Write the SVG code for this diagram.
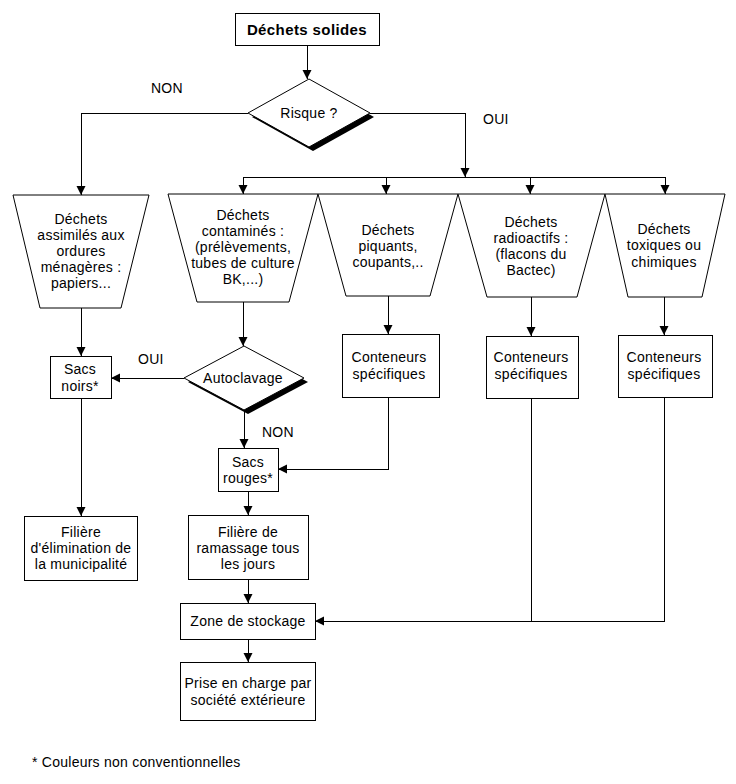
<svg xmlns="http://www.w3.org/2000/svg" width="736" height="784" viewBox="0 0 736 784">
<style>
  .box{fill:#fff;stroke:#000;stroke-width:1;shape-rendering:crispEdges}
  .shape{fill:#fff;stroke:#000;stroke-width:1}
  .shadow{fill:#000;stroke:none}
  .t{font-family:"Liberation Sans",Arial,sans-serif;font-size:14px;letter-spacing:0.25px;fill:#000;text-anchor:middle}
  .title{font-family:"Liberation Sans",Arial,sans-serif;font-size:15px;font-weight:bold;letter-spacing:0.4px;fill:#000;text-anchor:middle}
  .lbl{font-family:"Liberation Sans",Arial,sans-serif;font-size:14px;letter-spacing:0.25px;fill:#000}
  .c{fill:none;stroke:#000;stroke-width:1;shape-rendering:crispEdges}
  .a{marker-end:url(#arr)}
</style>
<defs>
  <marker id="arr" markerUnits="userSpaceOnUse" markerWidth="10" markerHeight="10" refX="9" refY="4.5" orient="auto">
    <path d="M0,0 L9,4.5 L0,9 z" fill="#000"/>
  </marker>
</defs>
<rect width="736" height="784" fill="#fff"/>

<g id="connectors">
  <line class="c a" x1="307" y1="45" x2="307" y2="79"/>
  <polyline class="c a" points="248,113 81,113 81,195"/>
  <polyline class="c a" points="370,113 465,113 465,177"/>
  <line class="c" x1="243" y1="177" x2="665" y2="177"/>
  <line class="c a" x1="243" y1="177" x2="243" y2="194"/>
  <line class="c a" x1="386" y1="177" x2="386" y2="194"/>
  <line class="c a" x1="530" y1="177" x2="530" y2="194"/>
  <line class="c a" x1="665" y1="177" x2="665" y2="194"/>
  <line class="c a" x1="81" y1="308" x2="81" y2="356"/>
  <line class="c a" x1="243" y1="302" x2="243" y2="346"/>
  <line class="c a" x1="184" y1="378" x2="111" y2="378"/>
  <line class="c a" x1="244" y1="410" x2="244" y2="448"/>
  <line class="c a" x1="388" y1="296" x2="388" y2="334"/>
  <line class="c a" x1="531" y1="297" x2="531" y2="336"/>
  <line class="c a" x1="664" y1="297" x2="664" y2="335"/>
  <polyline class="c a" points="388,397 388,469 278,469"/>
  <line class="c a" x1="81" y1="398" x2="81" y2="516"/>
  <line class="c a" x1="248" y1="491" x2="248" y2="515"/>
  <line class="c a" x1="248" y1="579" x2="248" y2="603"/>
  <polyline class="c a" points="664,397 664,621 315,621"/>
  <line class="c" x1="531" y1="398" x2="531" y2="621"/>
  <line class="c a" x1="248" y1="639" x2="248" y2="662"/>
  <text class="lbl" x="151" y="93">NON</text>
  <text class="lbl" x="483" y="124">OUI</text>
  <text class="lbl" x="138" y="364">OUI</text>
  <text class="lbl" x="262" y="437">NON</text>
</g>

<g id="dechets-solides">
  <rect class="box" x="235" y="13" width="144" height="32"/>
  <text class="title" x="307" y="35">Déchets solides</text>
</g>

<g id="risque">
  <polygon class="shadow" points="252,117 313,83 374,117 313,151"/>
  <polygon class="shape" points="248,113 309,79 370,113 309,147"/>
  <text class="t" x="309" y="118">Risque ?</text>
</g>

<g id="assimiles">
  <polygon class="shape" points="13,195 149,195 121,308 40,308"/>
  <text class="t" x="81" y="224">Déchets</text>
  <text class="t" x="81" y="240">assimilés aux</text>
  <text class="t" x="81" y="256">ordures</text>
  <text class="t" x="81" y="272">ménagères :</text>
  <text class="t" x="81" y="288">papiers...</text>
</g>

<g id="contamines">
  <polygon class="shape" points="168,194 318,194 289,302 197,302"/>
  <text class="t" x="243" y="220">Déchets</text>
  <text class="t" x="243" y="236">contaminés :</text>
  <text class="t" x="243" y="252">(prélèvements,</text>
  <text class="t" x="243" y="268">tubes de culture</text>
  <text class="t" x="243" y="284">BK,...)</text>
</g>

<g id="piquants">
  <polygon class="shape" points="318,194 458,194 430,296 346,296"/>
  <text class="t" x="388" y="235">Déchets</text>
  <text class="t" x="388" y="251">piquants,</text>
  <text class="t" x="388" y="267">coupants,..</text>
</g>

<g id="radioactifs">
  <polygon class="shape" points="458,194 605,194 577,297 487,297"/>
  <text class="t" x="531" y="227">Déchets</text>
  <text class="t" x="531" y="243">radioactifs :</text>
  <text class="t" x="531" y="259">(flacons du</text>
  <text class="t" x="531" y="275">Bactec)</text>
</g>

<g id="toxiques">
  <polygon class="shape" points="605,194 725,194 702,297 628,297"/>
  <text class="t" x="664" y="234">Déchets</text>
  <text class="t" x="664" y="250">toxiques ou</text>
  <text class="t" x="664" y="267">chimiques</text>
</g>

<g id="sacs-noirs">
  <rect class="box" x="50" y="356" width="61" height="42"/>
  <text class="t" x="80" y="374">Sacs</text>
  <text class="t" x="80" y="391">noirs*</text>
</g>

<g id="autoclavage">
  <polygon class="shadow" points="188,382 248,350 308,382 248,414"/>
  <polygon class="shape" points="184,378 244,346 304,378 244,410"/>
  <text class="t" x="243" y="383">Autoclavage</text>
</g>

<g id="sacs-rouges">
  <rect class="box" x="218" y="448" width="60" height="43"/>
  <text class="t" x="248" y="467">Sacs</text>
  <text class="t" x="248" y="483">rouges*</text>
</g>

<g id="conteneurs-1">
  <rect class="box" x="342" y="334" width="97" height="63"/>
  <text class="t" x="389" y="362">Conteneurs</text>
  <text class="t" x="389" y="379">spécifiques</text>
</g>

<g id="conteneurs-2">
  <rect class="box" x="486" y="336" width="92" height="62"/>
  <text class="t" x="531" y="362">Conteneurs</text>
  <text class="t" x="531" y="379">spécifiques</text>
</g>

<g id="conteneurs-3">
  <rect class="box" x="618" y="335" width="94" height="62"/>
  <text class="t" x="664" y="362">Conteneurs</text>
  <text class="t" x="664" y="379">spécifiques</text>
</g>

<g id="filiere-municipalite">
  <rect class="box" x="24" y="516" width="113" height="64"/>
  <text class="t" x="81" y="537">Filière</text>
  <text class="t" x="81" y="553">d'élimination de</text>
  <text class="t" x="81" y="569">la municipalité</text>
</g>

<g id="filiere-ramassage">
  <rect class="box" x="188" y="515" width="120" height="64"/>
  <text class="t" x="248" y="537">Filière de</text>
  <text class="t" x="248" y="553">ramassage tous</text>
  <text class="t" x="248" y="569">les jours</text>
</g>

<g id="zone-stockage">
  <rect class="box" x="180" y="603" width="135" height="36"/>
  <text class="t" x="248" y="626">Zone de stockage</text>
</g>

<g id="prise-en-charge">
  <rect class="box" x="180" y="662" width="135" height="58"/>
  <text class="t" x="248" y="688">Prise en charge par</text>
  <text class="t" x="248" y="705">société extérieure</text>
</g>

<text class="lbl" x="32" y="767">* Couleurs non conventionnelles</text>
</svg>
